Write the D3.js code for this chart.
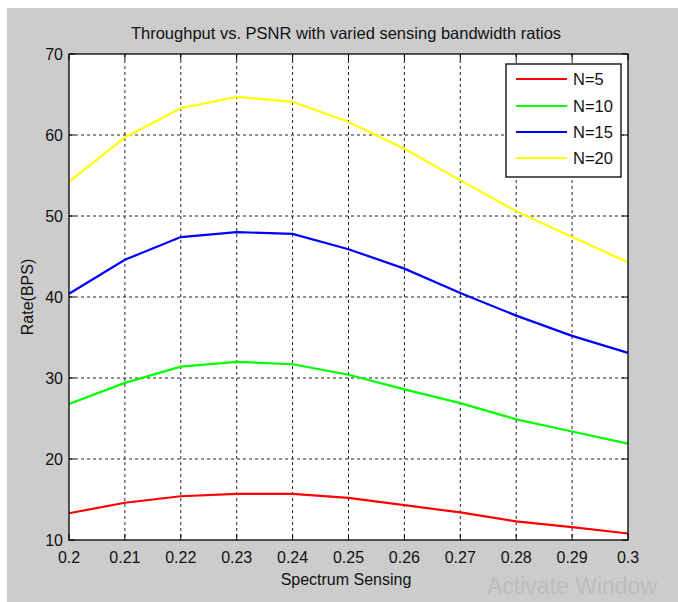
<!DOCTYPE html>
<html>
<head>
<meta charset="utf-8">
<script src="https://cdn.jsdelivr.net/npm/d3@7"></script>
<style>
body { margin: 0; background: #fff; }
svg text { font-family: "Liberation Sans", Arial, sans-serif; fill: #111; }
</style>
</head>
<body>
<script>
var xValues = [0.2, 0.21, 0.22, 0.23, 0.24, 0.25, 0.26, 0.27, 0.28, 0.29, 0.3];
var n5  = [13.3, 14.6, 15.4, 15.7, 15.7, 15.2, 14.3, 13.4, 12.3, 11.6, 10.8];
var n10 = [26.8, 29.4, 31.4, 32.0, 31.7, 30.4, 28.6, 26.9, 24.9, 23.4, 21.9];
var n15 = [40.4, 44.6, 47.4, 48.0, 47.8, 45.9, 43.5, 40.5, 37.7, 35.2, 33.1];
var n20 = [54.2, 59.7, 63.3, 64.7, 64.1, 61.6, 58.3, 54.4, 50.6, 47.4, 44.3];
var seriesNames = ["N=5", "N=10", "N=15", "N=20"];
var seriesColors = ["#ff0000", "#00ff00", "#0000ff", "#ffff00"];
var xTicks = [0.2, 0.21, 0.22, 0.23, 0.24, 0.25, 0.26, 0.27, 0.28, 0.29, 0.3];
var yTicks = [10, 20, 30, 40, 50, 60, 70];

var w = 678, h = 602;
var pLeft = 69, pRight = 628, pTop = 54, pBottom = 540;

var svg = d3.select("body").append("svg")
    .attr("width", w)
    .attr("height", h);

// figure background
svg.append("rect")
    .attr("x", 7).attr("y", 8)
    .attr("width", w - 7).attr("height", h - 8)
    .attr("fill", "#cccccc");

var x = d3.scaleLinear().domain([0.2, 0.3]).range([pLeft, pRight]);
var y = d3.scaleLinear().domain([10, 70]).range([pBottom, pTop]);

svg.append("rect")
    .attr("x", pLeft).attr("y", pTop)
    .attr("width", pRight - pLeft).attr("height", pBottom - pTop)
    .attr("fill", "#fff");

// grid
svg.selectAll(".vgrid")
    .data(xTicks.slice(1, -1))
    .enter().append("line")
    .attr("x1", function(d){ return x(d); })
    .attr("x2", function(d){ return x(d); })
    .attr("y1", pTop).attr("y2", pBottom)
    .attr("stroke", "#222").attr("stroke-width", 1)
    .attr("stroke-dasharray", "3,3");
svg.selectAll(".hgrid")
    .data(yTicks.slice(1, -1))
    .enter().append("line")
    .attr("y1", function(d){ return y(d); })
    .attr("y2", function(d){ return y(d); })
    .attr("x1", pLeft).attr("x2", pRight)
    .attr("stroke", "#222").attr("stroke-width", 1)
    .attr("stroke-dasharray", "3,3");

// inner ticks on all four sides
var tl = 6;
xTicks.forEach(function(d){
    svg.append("line").attr("x1", x(d)).attr("x2", x(d)).attr("y1", pBottom).attr("y2", pBottom - tl).attr("stroke", "#000");
    svg.append("line").attr("x1", x(d)).attr("x2", x(d)).attr("y1", pTop).attr("y2", pTop + tl).attr("stroke", "#000");
});
yTicks.forEach(function(d){
    svg.append("line").attr("y1", y(d)).attr("y2", y(d)).attr("x1", pLeft).attr("x2", pLeft + tl).attr("stroke", "#000");
    svg.append("line").attr("y1", y(d)).attr("y2", y(d)).attr("x1", pRight).attr("x2", pRight - tl).attr("stroke", "#000");
});

// lines
var data = [n5, n10, n15, n20];
var line = d3.line()
    .x(function(d, i){ return x(xValues[i]); })
    .y(function(d){ return y(d); });
svg.selectAll(".series")
    .data(data)
    .enter().append("path")
    .attr("d", line)
    .attr("fill", "none")
    .attr("stroke", function(d, i){ return seriesColors[i]; })
    .attr("stroke-width", 2.2);

// box
svg.append("rect")
    .attr("x", pLeft).attr("y", pTop)
    .attr("width", pRight - pLeft).attr("height", pBottom - pTop)
    .attr("fill", "none").attr("stroke", "#000").attr("stroke-width", 1.3);

// tick labels
svg.selectAll(".xlab")
    .data(xTicks)
    .enter().append("text")
    .attr("x", function(d){ return x(d); })
    .attr("y", 563)
    .attr("text-anchor", "middle")
    .style("font-size", "16px")
    .text(function(d){ return d3.format("")(d); });
svg.selectAll(".ylab")
    .data(yTicks)
    .enter().append("text")
    .attr("x", 63)
    .attr("y", function(d){ return y(d) + 6; })
    .attr("text-anchor", "end")
    .style("font-size", "16px")
    .text(function(d){ return d; });

// titles
svg.append("text")
    .attr("x", 346).attr("y", 39)
    .attr("text-anchor", "middle")
    .style("font-size", "16.5px")
    .text("Throughput vs. PSNR with varied sensing bandwidth ratios");
svg.append("text")
    .attr("x", 346).attr("y", 585)
    .attr("text-anchor", "middle")
    .style("font-size", "16px")
    .text("Spectrum Sensing");
svg.append("text")
    .attr("transform", "translate(33,297) rotate(-90)")
    .attr("text-anchor", "middle")
    .style("font-size", "16px")
    .text("Rate(BPS)");

// legend
var lg = svg.append("g");
lg.append("rect")
    .attr("x", 506).attr("y", 64)
    .attr("width", 115).attr("height", 113)
    .attr("fill", "#fff").attr("stroke", "#000").attr("stroke-width", 1.3);
var rowY = [79, 106, 132, 158];
seriesNames.forEach(function(name, i){
    lg.append("line")
        .attr("x1", 516).attr("x2", 567)
        .attr("y1", rowY[i]).attr("y2", rowY[i])
        .attr("stroke", seriesColors[i]).attr("stroke-width", 2.2);
    lg.append("text")
        .attr("x", 573).attr("y", rowY[i] + 6)
        .style("font-size", "16.5px")
        .text(name);
});

// watermark
svg.append("text")
    .attr("x", 487).attr("y", 594)
    .style("font-size", "23px")
    .style("fill", "#bdbdbd")
    .text("Activate Window");
</script>
</body>
</html>
